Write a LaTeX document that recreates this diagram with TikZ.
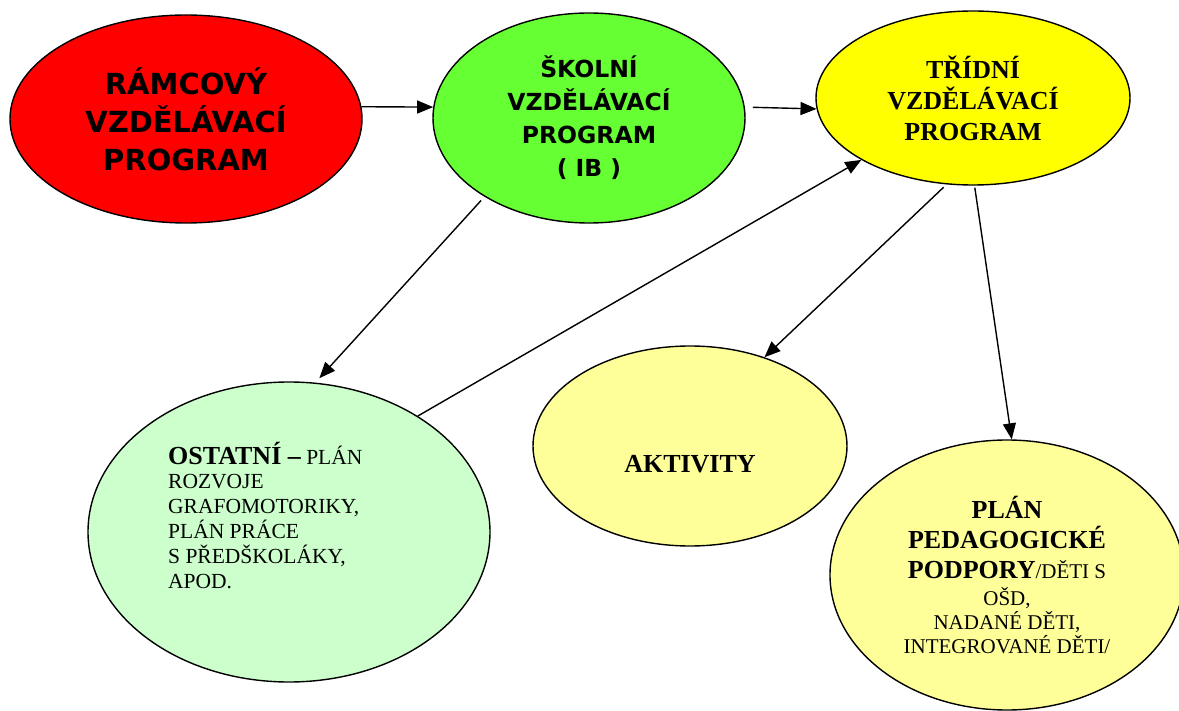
\documentclass[tikz,border=0pt]{standalone}
\usepackage{fontspec}
\setmainfont{Liberation Serif}
\newfontfamily\verdana{DejaVu Sans}
\usepackage{xcolor}
\usetikzlibrary{shapes.geometric}
\usetikzlibrary{arrows.meta}
\definecolor{rvpRed}{HTML}{FF0000}
\definecolor{svpGreen}{HTML}{66FF33}
\definecolor{tvpYellow}{HTML}{FFFF00}
\definecolor{ostGreen}{HTML}{CCFFCC}
\definecolor{paleYellow}{HTML}{FFFF99}
\tikzstyle{bubble} = [draw, ellipse,
	line width=1.4pt,
	inner sep=0pt,
	align=center]
\tikzstyle{arrow} = [-{Triangle[length=16pt, width=13pt]}, line width=1.4pt]
\newcommand{\bigbf}[1]{{\bfseries\fontsize{26}{30}\selectfont #1}}

\begin{document}
\begin{tikzpicture}[x=1pt, y=-1pt]
		\useasboundingbox (0,0) rectangle (1179,711);
		
			\node (rvp) [bubble, fill=rvpRed, minimum width=352pt, minimum height=208pt,
				font=\verdana\bfseries\fontsize{29}{38}\selectfont] at (186,119)
				{RÁMCOVÝ\\VZDĚLÁVACÍ\\PROGRAM};
			
			\node (svp) [bubble, fill=svpGreen, minimum width=312pt, minimum height=210pt,
				font=\verdana\bfseries\fontsize{23.5}{33}\selectfont] at (589,118)
				{ŠKOLNÍ\\VZDĚLÁVACÍ\\PROGRAM\\( IB )};
			\draw [arrow] (rvp.4) -- (svp.176);
			
			\node (tvp) [bubble, fill=tvpYellow, minimum width=314pt, minimum height=174pt,
				font=\bfseries\fontsize{26}{31}\selectfont] at (973,98)
				{TŘÍDNÍ\\VZDĚLÁVACÍ\\PROGRAM};
			\draw [arrow, shorten <=8pt] (svp.4) -- (tvp.184);
			
			\node (ost) [bubble, fill=ostGreen, minimum width=402pt, minimum height=300pt] at (289,532) {};
			\node (ostText) [anchor=base west, align=left, inner sep=0pt,
				font=\fontsize{21.5}{24.8}\selectfont] at (168,588)
				{\bigbf{OSTATNÍ –} PLÁN\\ROZVOJE\\GRAFOMOTORIKY,\\PLÁN PRÁCE\\S PŘEDŠKOLÁKY,\\APOD.};
			\draw [arrow, shorten <=5pt, shorten >=6pt] (svp.217) -- (ost.80);
			\draw [arrow] (ost.42) -- (tvp.209);
			
			\node (akt) [bubble, fill=paleYellow, minimum width=314pt, minimum height=200pt] at (690,446) {};
			\node (aktText) [font=\bfseries\fontsize{26}{30}\selectfont] at (690,464) {AKTIVITY};
			\draw [arrow, shorten <=4pt] (tvp.253) -- (akt.50);
			
			\node (ppp) [bubble, fill=paleYellow, minimum width=354pt, minimum height=270pt,
				font=\fontsize{21}{24}\selectfont] at (1007,575)
				{\bigbf{PLÁN}\\[6pt]\bigbf{PEDAGOGICKÉ}\\[6pt]\bigbf{PODPORY}/DĚTI S\\[2.7pt]OŠD,\\NADANÉ DĚTI,\\INTEGROVANÉ DĚTI/};
			\draw [arrow, shorten <=2pt] (tvp.271) -- (ppp.88);
		\end{tikzpicture}
\end{document}
